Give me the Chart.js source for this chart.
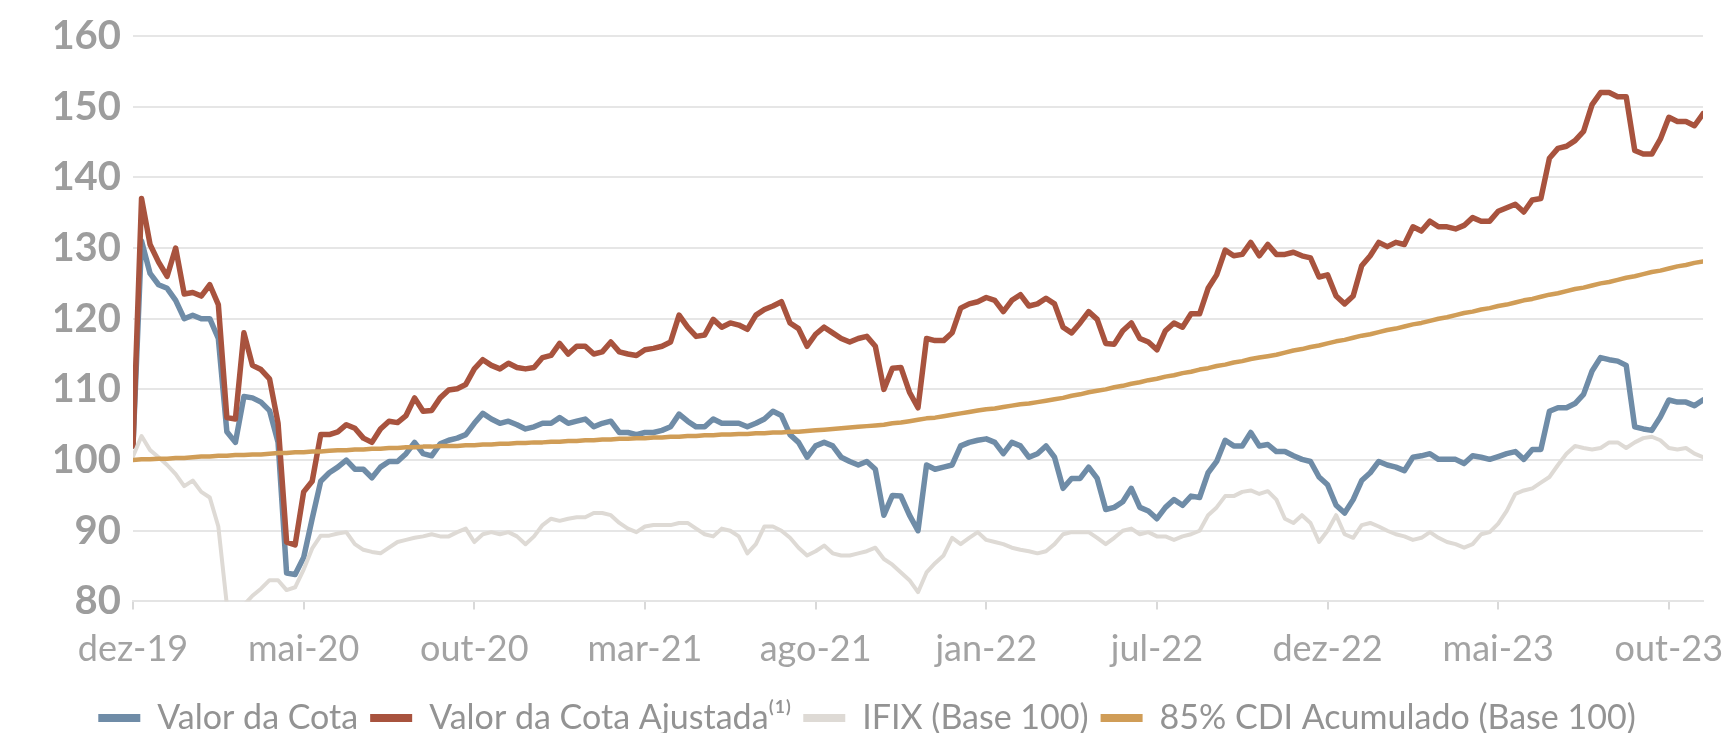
<!DOCTYPE html>
<html>
<head>
<meta charset="utf-8">
<script src="https://cdn.jsdelivr.net/npm/chart.js@4.4.1/dist/chart.umd.min.js"></script>
<style>
  html, body { margin: 0; padding: 0; background: #ffffff; overflow: hidden; }
  #wrap { width: 1734px; height: 733px; position: relative; }
</style>
</head>
<body>
<div id="wrap"><canvas id="c"></canvas></div>
<script>
// ---- Data (one point per ~quarter month, index 0 = dez-19) ----
const tickLabels = ['dez-19','mai-20','out-20','mar-21','ago-21','jan-22','jul-22','dez-22','mai-23','out-23'];
const pointsPerTick = 20;

const valorCota = [
102,131,126.4,124.8,124.3,122.6,120,120.5,120,120,
117.2,104,102.5,109,108.8,108.2,107,102.5,84,83.8,
86.2,91.7,97,98.2,99,100,98.7,98.7,97.5,99,
99.8,99.8,100.9,102.5,100.9,100.6,102.3,102.8,103.1,103.6,
105.2,106.6,105.8,105.2,105.5,105,104.4,104.7,105.2,105.2,
106,105.2,105.5,105.8,104.7,105.2,105.5,103.9,103.9,103.6,
103.9,103.9,104.2,104.7,106.5,105.5,104.7,104.7,105.8,105.2,
105.2,105.2,104.7,105.2,105.8,106.9,106.3,103.6,102.5,100.4,
102,102.5,102,100.4,99.8,99.3,99.8,98.7,92.2,95,
94.9,92.2,90,99.3,98.7,99,99.3,102,102.5,102.8,
103,102.5,100.9,102.5,102,100.4,100.9,102,100.4,96,
97.4,97.4,99,97.4,93,93.3,94.1,96,93.3,92.8,
91.7,93.3,94.4,93.6,94.9,94.7,98.2,99.8,102.8,102,
102,103.9,102,102.2,101.2,101.2,100.6,100.1,99.8,97.6,
96.5,93.6,92.5,94.4,97.1,98.2,99.8,99.3,99,98.5,
100.4,100.6,100.9,100.1,100.1,100.1,99.5,100.6,100.4,100.1,
100.5,100.9,101.2,100.1,101.5,101.5,106.9,107.4,107.4,108,
109.3,112.6,114.5,114.2,114,113.4,104.7,104.4,104.2,106.1,
108.5,108.2,108.2,107.7,108.5
];

const valorCotaAjustada = [
102,137,130.5,128,126,130,123.5,123.7,123.2,124.8,
122,106,105.8,118,113.4,112.8,111.5,105.2,88.4,88,
95.5,97,103.6,103.6,104,105,104.5,103.1,102.5,104.4,
105.5,105.3,106.3,108.8,106.9,107,108.8,109.9,110.1,110.7,
112.9,114.2,113.4,112.9,113.7,113.1,112.9,113.1,114.5,114.8,
116.5,115,116.1,116.1,115,115.3,116.7,115.3,115,114.8,
115.6,115.8,116.1,116.7,120.5,118.8,117.5,117.7,119.9,118.8,
119.4,119.1,118.5,120.5,121.3,121.8,122.4,119.4,118.6,116.1,
117.8,118.8,118,117.2,116.7,117.2,117.5,116.1,110,113,
113.1,109.6,107.4,117.2,116.9,116.9,118,121.5,122.1,122.4,
123,122.6,121,122.6,123.4,121.8,122.1,122.9,122.1,118.8,
118,119.4,121,119.9,116.5,116.4,118.3,119.4,117.2,116.7,
115.6,118.3,119.4,118.8,120.7,120.7,124.3,126.2,129.7,128.9,
129.1,130.8,128.9,130.5,129.1,129.1,129.4,128.9,128.6,125.9,
126.2,123.2,122.1,123.2,127.5,128.9,130.8,130.2,130.8,130.5,
133,132.4,133.8,133,133,132.7,133.2,134.3,133.8,133.8,
135.2,135.7,136.2,135.1,136.8,137,142.7,144.1,144.4,145.2,
146.5,150.3,152,152,151.4,151.4,143.8,143.3,143.3,145.4,
148.5,147.9,147.9,147.3,149
];

const ifix = [
100.5,103.4,101.4,100.4,99.3,98,96.3,97.1,95.5,94.7,
90.6,79.5,72,79.5,80.8,81.8,83,83,81.6,82,
84.5,87.5,89.3,89.3,89.6,89.8,88.1,87.3,87,86.8,
87.6,88.4,88.7,89,89.2,89.5,89.2,89.2,89.8,90.3,
88.4,89.5,89.8,89.5,89.8,89.2,88.1,89.2,90.8,91.7,
91.4,91.7,91.9,91.9,92.5,92.5,92.2,91.1,90.3,89.8,
90.6,90.8,90.8,90.8,91.1,91.1,90.3,89.5,89.2,90.3,
90,89.2,86.8,88.1,90.6,90.6,90,89,87.6,86.5,
87.1,87.9,86.8,86.5,86.5,86.8,87.1,87.6,86,85.2,
84.1,83,81.3,84.1,85.4,86.5,89,88.1,89,89.8,
88.7,88.4,88.1,87.6,87.3,87.1,86.8,87.1,88.1,89.5,
89.8,89.8,89.8,89,88.1,89,90,90.3,89.5,89.8,
89.2,89.2,88.7,89.2,89.5,90,92.2,93.3,94.9,94.9,
95.5,95.7,95.2,95.6,94.4,91.7,91.1,92.2,91.1,88.4,
90,92.2,89.5,89,90.8,91.1,90.6,90,89.5,89.2,
88.7,89,89.8,89,88.4,88.1,87.6,88.1,89.5,89.8,
91,92.8,95.2,95.7,96,96.8,97.6,99.3,100.9,102,
101.7,101.5,101.7,102.5,102.5,101.7,102.5,103.1,103.3,102.8,
101.7,101.5,101.7,100.9,100.4
];

const cdi85 = [
100.0,100.1,100.1,100.2,100.2,100.3,100.3,100.4,100.5,100.5,
100.6,100.6,100.7,100.7,100.8,100.8,100.9,101.0,101.0,101.1,
101.1,101.2,101.2,101.3,101.4,101.4,101.5,101.5,101.6,101.6,
101.7,101.7,101.8,101.8,101.9,101.9,102.0,102.0,102.0,102.1,
102.1,102.2,102.2,102.3,102.3,102.4,102.4,102.5,102.5,102.6,
102.6,102.7,102.7,102.8,102.8,102.9,102.9,103.0,103.0,103.1,
103.1,103.2,103.2,103.3,103.3,103.4,103.4,103.5,103.5,103.6,
103.6,103.7,103.7,103.8,103.8,103.9,103.9,104.0,104.0,104.1,
104.2,104.3,104.4,104.5,104.6,104.7,104.8,104.9,105.0,105.2,
105.3,105.5,105.7,105.9,106.0,106.2,106.4,106.6,106.8,107.0,
107.2,107.3,107.5,107.7,107.9,108.0,108.2,108.4,108.6,108.8,
109.1,109.3,109.6,109.8,110.0,110.3,110.5,110.8,111.0,111.3,
111.5,111.8,112.0,112.3,112.5,112.8,113.0,113.3,113.5,113.8,
114.0,114.3,114.5,114.7,114.9,115.2,115.5,115.7,116.0,116.2,
116.5,116.8,117.0,117.3,117.6,117.8,118.1,118.4,118.6,118.9,
119.2,119.4,119.7,120.0,120.2,120.5,120.8,121.0,121.3,121.5,
121.8,122.0,122.3,122.6,122.8,123.1,123.4,123.6,123.9,124.2,
124.4,124.7,125.0,125.2,125.5,125.8,126.0,126.3,126.6,126.8,
127.1,127.4,127.6,127.9,128.1
];

const yTicks = [80, 90, 100, 110, 120, 130, 140, 150, 160];

// ---- build chart ----
const toXY = arr => arr.map((v, i) => ({ x: i, y: v }));
const lastIndex = valorCota.length - 1;

const baseLine = {
  pointRadius: 0,
  pointHoverRadius: 0,
  tension: 0,
  borderJoinStyle: 'round',
  borderCapStyle: 'round',
  fill: false
};

// shift the legend slightly left so it is centred on the page like the original
const legendShift = {
  id: 'legendShift',
  afterLayout(chart) {
    if (chart.legend) {
      chart.legend.left -= 12;
      chart.legend.right -= 12;
    }
  }
};

new Chart(document.getElementById('c'), {
  type: 'line',
  plugins: [legendShift],
  data: {
    datasets: [
      Object.assign({ label: 'Valor da Cota', data: toXY(valorCota),
        borderColor: '#6f8ca7', backgroundColor: '#6f8ca7', borderWidth: 5.5, order: 4 }, baseLine),
      Object.assign({ label: 'Valor da Cota Ajustada\u207D\u00B9\u207E', data: toXY(valorCotaAjustada),
        borderColor: '#a8533e', backgroundColor: '#a8533e', borderWidth: 5.5, order: 3 }, baseLine),
      Object.assign({ label: 'IFIX (Base 100)', data: toXY(ifix),
        borderColor: '#dedad5', backgroundColor: '#dedad5', borderWidth: 4, order: 2 }, baseLine),
      Object.assign({ label: '85% CDI Acumulado (Base 100)', data: toXY(cdi85),
        borderColor: '#d09d57', backgroundColor: '#d09d57', borderWidth: 4.5, order: 1 }, baseLine)
    ]
  },
  options: {
    responsive: true,
    maintainAspectRatio: false,
    animation: false,
    layout: { padding: { top: 16, left: 55, right: 31, bottom: -12 } },
    plugins: {
      tooltip: { enabled: false },
      legend: {
        position: 'bottom',
        align: 'center',
        labels: {
          boxWidth: 42,
          boxHeight: 8,
          padding: 12,
          color: '#939393',
          font: { family: 'Lato', size: 34 },
          sort: (a, b) => a.datasetIndex - b.datasetIndex,
          generateLabels: (chart) => {
            const items = Chart.defaults.plugins.legend.labels.generateLabels(chart);
            items.forEach(it => {
              const ds = chart.data.datasets[it.datasetIndex];
              it.fillStyle = ds.borderColor;
              it.strokeStyle = ds.borderColor;
              it.lineWidth = 0;
            });
            return items;
          }
        }
      }
    },
    scales: {
      x: {
        type: 'linear',
        min: 0,
        max: lastIndex,
        afterBuildTicks: (axis) => {
          axis.ticks = tickLabels.map((_, k) => ({ value: k * pointsPerTick }));
        },
        ticks: {
          autoSkip: false,
          maxRotation: 0,
          padding: -7,
          color: '#a3a3a3',
          font: { family: 'Lato', size: 36, lineHeight: 2.6 },
          callback: (value) => {
            const k = Math.round(value / pointsPerTick);
            return (value % pointsPerTick === 0 && tickLabels[k] !== undefined) ? tickLabels[k] : '';
          }
        },
        grid: {
          display: true,
          drawOnChartArea: false,
          drawTicks: true,
          tickLength: 8,
          color: '#d9d9d9',
          lineWidth: 2
        },
        border: { display: true, color: '#e4e4e4', width: 2 }
      },
      y: {
        min: 80,
        max: 160,
        afterBuildTicks: (axis) => {
          axis.ticks = yTicks.map(v => ({ value: v }));
        },
        afterFit: (axis) => { axis.width = 78; },
        ticks: {
          padding: 12,
          color: '#9d9d9d',
          font: { family: 'Lato', size: 40, weight: 'bold' }
        },
        grid: {
          color: '#e6e6e6',
          lineWidth: 2,
          drawTicks: false
        },
        border: { display: false }
      }
    }
  }
});
</script>
</body>
</html>
